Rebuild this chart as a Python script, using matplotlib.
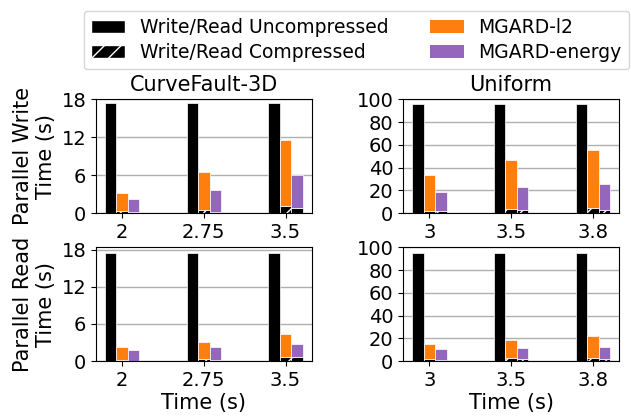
import numpy as np
import matplotlib.pyplot as plt
from matplotlib.patches import Patch

plt.rcParams["font.family"] = "DejaVu Sans"
plt.rcParams["hatch.linewidth"] = 1.0

ORANGE = "#ff7f0e"
PURPLE = "#9467bd"

datasets = ["CurveFault-3D", "Uniform"]
tick_labels = [["2", "2.75", "3.5"], ["3", "3.5", "3.8"]]

# write times (s): [dataset][group]
write_uncomp = [[17.4, 17.4, 17.4], [95.5, 95.5, 95.5]]
write_l2_total = [[3.2, 6.5, 11.5], [33.3, 47.0, 55.7]]
write_l2_comp = [[0.3, 0.5, 1.1], [2.0, 3.5, 4.2]]
write_en_total = [[2.3, 3.6, 6.0], [18.3, 23.0, 25.7]]
write_en_comp = [[0.1, 0.2, 0.85], [1.5, 2.5, 3.0]]

# read times (s)
read_uncomp = [[17.5, 17.5, 17.5], [95.0, 95.0, 95.0]]
read_l2_total = [[2.2, 3.05, 4.3], [15.4, 18.9, 22.2]]
read_l2_comp = [[0.2, 0.4, 0.65], [1.5, 2.5, 3.0]]
read_en_total = [[1.85, 2.2, 2.75], [10.9, 11.8, 12.4]]
read_en_comp = [[0.1, 0.2, 0.6], [1.0, 2.0, 2.0]]

yticks = [[0, 6, 12, 18], [0, 20, 40, 60, 80, 100]]

fig = plt.figure(figsize=(6.31, 4.17), dpi=100)
lefts = [0.152, 0.639]
bottoms = [0.489, 0.134]
W, H = 0.342, 0.273
bw = 0.14
x = np.arange(3)

rows = [
    (write_uncomp, write_l2_total, write_l2_comp, write_en_total, write_en_comp,
     "Parallel Write\nTime (s)"),
    (read_uncomp, read_l2_total, read_l2_comp, read_en_total, read_en_comp,
     "Parallel Read\nTime (s)"),
]

for r, (unc, l2t, l2c, ent, enc, ylab) in enumerate(rows):
    for c in range(2):
        ax = fig.add_axes([lefts[c], bottoms[r], W, H])
        ax.set_axisbelow(True)
        ax.grid(axis="y", color="#b0b0b0", linewidth=1)
        l2c_ = np.array(l2c[c])
        enc_ = np.array(enc[c])
        ax.bar(x - bw, unc[c], bw, color="black", edgecolor="white", linewidth=0.5)
        ax.bar(x, l2c_, bw, color="black", edgecolor="white", hatch="//", linewidth=0.5)
        ax.bar(x, np.array(l2t[c]) - l2c_, bw, bottom=l2c_, color=ORANGE,
               edgecolor="white", linewidth=0.5)
        ax.bar(x + bw, enc_, bw, color="black", edgecolor="white", hatch="//", linewidth=0.5)
        ax.bar(x + bw, np.array(ent[c]) - enc_, bw, bottom=enc_, color=PURPLE,
               edgecolor="white", linewidth=0.5)
        ax.set_xticks(x)
        ax.set_xticklabels(tick_labels[c])
        ax.set_yticks(yticks[c])
        ax.set_xlim(-0.32, 2.32)
        if c == 1:
            ax.set_ylim(0, 100)
        elif r == 0:
            ax.set_ylim(0, 18)
        ax.tick_params(labelsize=14)
        if r == 0:
            ax.set_title(datasets[c], fontsize=15)
        else:
            ax.set_xlabel("Time (s)", fontsize=15, labelpad=2)
        if c == 0:
            ax.set_ylabel(ylab, fontsize=15)

handles = [
    Patch(facecolor="black", edgecolor="white", label="Write/Read Uncompressed"),
    Patch(facecolor="black", edgecolor="white", hatch="//", label="Write/Read Compressed"),
    Patch(facecolor=ORANGE, label="MGARD-l2"),
    Patch(facecolor=PURPLE, label="MGARD-energy"),
]
fig.legend(handles=handles, loc="upper center", bbox_to_anchor=(0.565, 0.997),
           ncol=2, fontsize=13.5, frameon=True, columnspacing=2.2,
           handlelength=1.8, handletextpad=0.8, borderpad=0.4, labelspacing=0.3)

fig.savefig("out.png", dpi=100)
